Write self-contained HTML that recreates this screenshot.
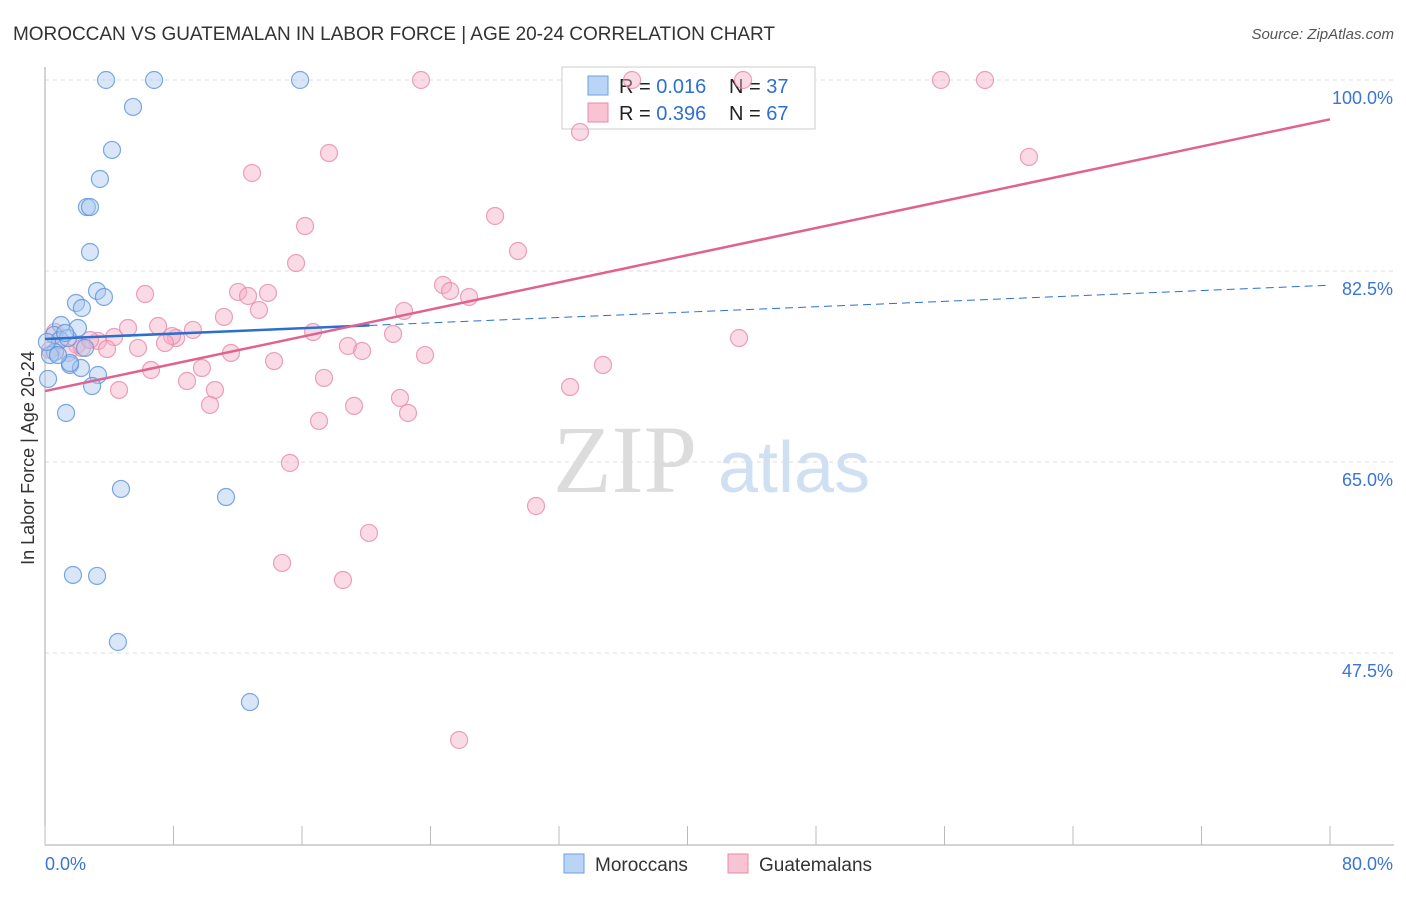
<!DOCTYPE html>
<html><head><meta charset="utf-8"><style>
body{margin:0;background:#fff;font-family:"Liberation Sans",sans-serif;}
</style></head><body>
<svg width="1406" height="892" xmlns="http://www.w3.org/2000/svg" font-family="Liberation Sans, sans-serif">
<text x="13" y="40" font-size="19" fill="#333" textLength="762">MOROCCAN VS GUATEMALAN IN LABOR FORCE | AGE 20-24 CORRELATION CHART</text>
<text x="1394" y="39" font-size="15" fill="#555" font-style="italic" text-anchor="end">Source: ZipAtlas.com</text>
<g>
<text x="553" y="492" font-size="96" font-family="Liberation Serif, serif" fill="#dcdcdc">ZIP</text>
<text x="718" y="492" font-size="72" fill="#cfe0f3">atlas</text>
</g>
<g id="grid"></g>
<g id="axes"></g>
<g>
<rect x="562" y="67" width="253" height="62" fill="#fff" stroke="#ccc"/>
<rect x="588" y="76" width="20" height="19" fill="#b9d4f4" stroke="#6a9fe0"/>
<rect x="588" y="103" width="20" height="19" fill="#f8c3d3" stroke="#e88aa8"/>
<text x="619" y="93" font-size="20" fill="#222">R = <tspan fill="#2f6fd0">0.016</tspan></text>
<text x="729" y="93" font-size="20" fill="#222">N = <tspan fill="#2f6fd0">37</tspan></text>
<text x="619" y="120" font-size="20" fill="#222">R = <tspan fill="#2f6fd0">0.396</tspan></text>
<text x="729" y="120" font-size="20" fill="#222">N = <tspan fill="#2f6fd0">67</tspan></text>
</g>
<g id="marks"></g>
<text transform="translate(34,458) rotate(-90)" font-size="18" fill="#333" text-anchor="middle">In Labor Force | Age 20-24</text>
<g>
<rect x="564" y="854" width="20" height="19" fill="#b9d4f4" stroke="#6a9fe0"/>
<text x="595" y="871" font-size="19" fill="#333">Moroccans</text>
<rect x="728" y="854" width="20" height="19" fill="#f8c3d3" stroke="#e88aa8"/>
<text x="759" y="871" font-size="19" fill="#333">Guatemalans</text>
</g>
</svg>
<script>
const yTicks=[100,82.5,65,47.5];
const yTickLabels=["100.0%","82.5%","65.0%","47.5%"];
const xTickLabels=["0.0%","80.0%"];
const moroccanX=[3.8,6.79,15.88,5.48,4.17,3.42,2.61,2.8,2.8,3.24,3.67,1.93,2.3,1.0,2.05,0.56,0.93,1.43,2.49,0.62,0.31,1.56,2.24,3.3,2.93,0.19,1.31,4.73,11.27,1.74,3.24,4.54,12.76,1.56,0.81,0.12,1.25];
const moroccanY=[100,100,100,97.53,93.59,90.93,88.36,88.36,84.24,80.67,80.12,79.57,79.11,77.55,77.28,76.64,76.18,76.36,75.45,75.08,74.8,73.89,73.61,72.97,71.96,72.61,69.49,62.53,61.79,54.65,54.56,48.51,43.01,74.07,74.8,76.0,76.82];
const guatX=[23.41,36.55,43.46,55.78,58.52,33.31,61.26,17.68,12.89,28.02,16.19,29.45,15.63,24.78,25.22,26.4,6.23,12.02,13.88,12.64,13.32,22.35,11.14,5.17,7.04,9.21,8.16,16.69,21.67,4.3,3.3,1.99,7.91,7.47,5.79,3.86,2.3,18.86,19.74,11.58,23.66,43.21,14.26,34.74,6.6,9.77,17.37,8.84,10.58,32.69,4.61,22.1,19.24,10.27,22.6,17.06,15.25,30.57,20.17,14.76,18.55,25.78,0.93,0.31,1.43,2.8,0.62];
const guatY=[100,100,100,100,100,95.24,92.95,93.31,91.48,87.54,86.62,84.33,83.23,81.22,80.67,80.12,80.39,80.58,80.49,80.21,78.93,78.84,78.29,77.28,77.46,77.1,76.36,76.91,76.73,76.45,76.09,75.72,76.54,75.9,75.45,75.35,75.45,75.63,75.17,74.99,74.8,76.36,74.25,73.89,73.43,73.61,72.7,72.42,71.6,71.87,71.6,70.87,70.14,70.23,69.49,68.76,64.91,60.97,58.5,55.75,54.19,39.53,76.18,75.26,74.99,76.18,76.91];
const moroccanTrend=[76.27,81.2];
const moroccanSolidEnd=20.2;
const guatTrend=[71.5,96.4];

const NS="http://www.w3.org/2000/svg";
const X0=45,X1=1330;
const sx=v=>X0+(v/80)*(X1-X0);
const sy=v=>80+(100-v)*191/17.5;
function mk(tag,attrs,parent){const e=document.createElementNS(NS,tag);for(const k in attrs)e.setAttribute(k,attrs[k]);parent.appendChild(e);return e;}
const grid=document.getElementById('grid'),axes=document.getElementById('axes'),marks=document.getElementById('marks');
yTicks.forEach((t,i)=>{
 const l=mk('line',{x1:X0,x2:1394,y1:sy(t),y2:sy(t),stroke:'#ddd','stroke-dasharray':'4,4'},grid);
 
 
 const tx=mk('text',{x:1393,y:sy(t)+24,'font-size':18,fill:'#3a74d4','text-anchor':'end'},grid);
 tx.textContent=yTickLabels[i];
 
 
});
const ya=mk('line',{x1:X0,x2:X0,y1:67,y2:845,stroke:'#aaa'},axes);


const xa=mk('line',{x1:X0,x2:1394,y1:845,y2:845,stroke:'#aaa'},axes);


for(let v=0;v<=80;v+=8){
 const t=mk('line',{x1:sx(v),x2:sx(v),y1:826,y2:845,stroke:'#bbb'},axes);
 
 
}
[[0,'start'],[80,'end']].forEach((p,i)=>{
 const tx=mk('text',{x:i?1393:45,y:870,'font-size':18,fill:'#3a74d4','text-anchor':p[1]},axes);
 tx.textContent=xTickLabels[i];
 
 
});
function pts(xs,ys,fill,stroke,name){
 xs.forEach((x,i)=>{
  const c=mk('circle',{cx:sx(x),cy:sy(ys[i]),r:8.5,fill:fill,'fill-opacity':0.45,stroke:stroke,'stroke-width':1.2,'stroke-opacity':0.8},marks);
  
  
 });
}
pts(guatX,guatY,'#f5b0c5','#e88aa8','guatemalan-point');
pts(moroccanX,moroccanY,'#a9c8f0','#5b93dc','moroccan-point');
const mt=v=>moroccanTrend[0]+(moroccanTrend[1]-moroccanTrend[0])*v/80;
const l1=mk('line',{x1:sx(0),y1:sy(mt(0)),x2:sx(moroccanSolidEnd),y2:sy(mt(moroccanSolidEnd)),stroke:'#2b6fd0','stroke-width':2.5},marks);


const l2=mk('line',{x1:sx(moroccanSolidEnd),y1:sy(mt(moroccanSolidEnd)),x2:sx(80),y2:sy(mt(80)),stroke:'#2b6fd0','stroke-width':1,'stroke-dasharray':'8,5'},marks);


const l3=mk('line',{x1:sx(0),y1:sy(guatTrend[0]),x2:sx(80),y2:sy(guatTrend[1]),stroke:'#e0628e','stroke-width':2.5},marks);


</script>
</body></html>
